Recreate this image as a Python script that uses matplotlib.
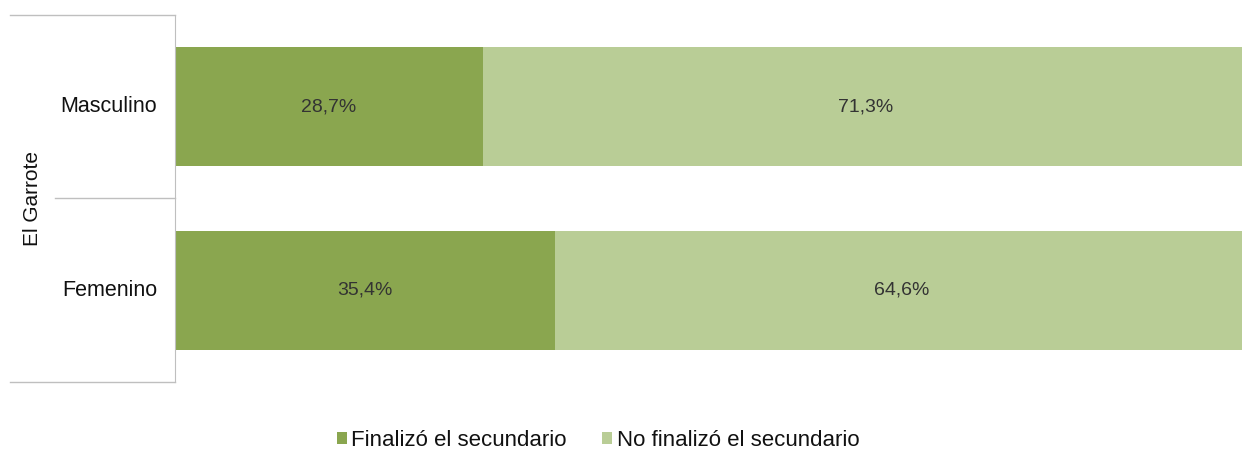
import matplotlib.pyplot as plt
from matplotlib.lines import Line2D

plt.rcParams['font.family'] = ['Liberation Sans', 'DejaVu Sans']

categories = ['Femenino', 'Masculino']
finalizo = [35.4, 28.7]
no_finalizo = [64.6, 71.3]
series_names = ['Finalizó el secundario', 'No finalizó el secundario']
group_label = 'El Garrote'

dark = '#8aa64f'
light = '#b9cd96'
text_color = '#333333'

fig = plt.figure(figsize=(12.42, 4.55), dpi=100)
ax = fig.add_axes([175 / 1242, 1 - 382 / 455, 1 - 175 / 1242, (382 - 15) / 455])

y = range(len(categories))
ax.barh(y, finalizo, height=0.65, color=dark, label=series_names[0])
ax.barh(y, no_finalizo, left=finalizo, height=0.65, color=light, label=series_names[1])

for i in y:
    ax.text(finalizo[i] / 2, i, f'{finalizo[i]:.1f}%'.replace('.', ','),
            ha='center', va='center', fontsize=14, color=text_color)
    ax.text(finalizo[i] + no_finalizo[i] / 2, i, f'{no_finalizo[i]:.1f}%'.replace('.', ','),
            ha='center', va='center', fontsize=14, color=text_color)

# the bars run slightly past the right edge of the picture
ax.set_xlim(0, 99.4)
ax.set_ylim(-0.5, 1.5)
ax.set_xticks([])
ax.set_yticks([])
for s in ['top', 'right', 'bottom']:
    ax.spines[s].set_visible(False)
ax.spines['left'].set_color('#bfbfbf')

# category labels and group label
for i, c in enumerate(categories):
    fig.text(157 / 1242, ax.transData.transform((0, i))[1] / 455, c,
             ha='right', va='center', fontsize=15.5, color='#111111')
fig.text(33 / 1242, 1 - 198 / 455, group_label, rotation=90,
         ha='center', va='center', fontsize=15, color='#111111')

# table-like separator lines
gray = '#bfbfbf'
fig.add_artist(Line2D([10 / 1242, 175 / 1242], [1 - 15 / 455] * 2, color=gray, lw=1))
fig.add_artist(Line2D([55 / 1242, 175 / 1242], [1 - 198 / 455] * 2, color=gray, lw=1))
fig.add_artist(Line2D([10 / 1242, 175 / 1242], [1 - 382 / 455] * 2, color=gray, lw=1))

handles, labels = ax.get_legend_handles_labels()
fig.legend(handles, labels, loc='center', bbox_to_anchor=(598 / 1242, 1 - 440 / 455),
           ncol=2, frameon=False, fontsize=16, handlelength=0.45, handleheight=0.45,
           handletextpad=0.2, columnspacing=1.6, labelcolor='#111111')

fig.savefig('out.png', dpi=100)
